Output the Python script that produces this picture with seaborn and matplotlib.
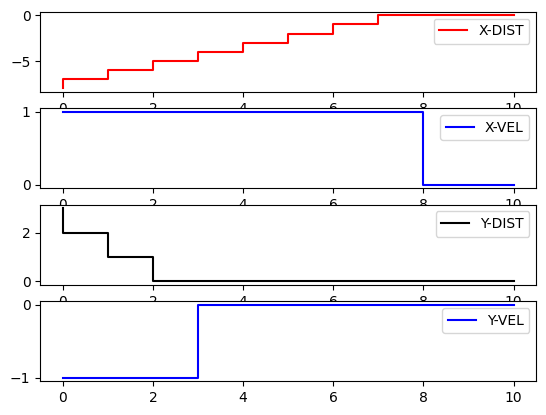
import matplotlib
matplotlib.use("Agg")
import matplotlib.pyplot as plt
import seaborn as sns

# time steps
t = [0, 1, 2, 3, 4, 5, 6, 7, 8, 9, 10]

x_dist = [-8, -7, -6, -5, -4, -3, -2, -1, 0, 0, 0]
x_vel = [1, 1, 1, 1, 1, 1, 1, 1, 1, 0, 0]
y_dist = [3, 2, 1, 0, 0, 0, 0, 0, 0, 0, 0]
y_vel = [-1, -1, -1, -1, 0, 0, 0, 0, 0, 0, 0]

series = [
    (x_dist, "X-DIST", "red"),
    (x_vel, "X-VEL", "blue"),
    (y_dist, "Y-DIST", "black"),
    (y_vel, "Y-VEL", "blue"),
]

fig, axes = plt.subplots(4, 1, figsize=(6.4, 4.8))

for ax, (vals, name, col) in zip(axes, series):
    sns.lineplot(x=t, y=vals, drawstyle="steps-pre", color=col,
                 label=name, ax=ax)
    ax.legend()

plt.savefig("out.png", dpi=100, bbox_inches="tight")
